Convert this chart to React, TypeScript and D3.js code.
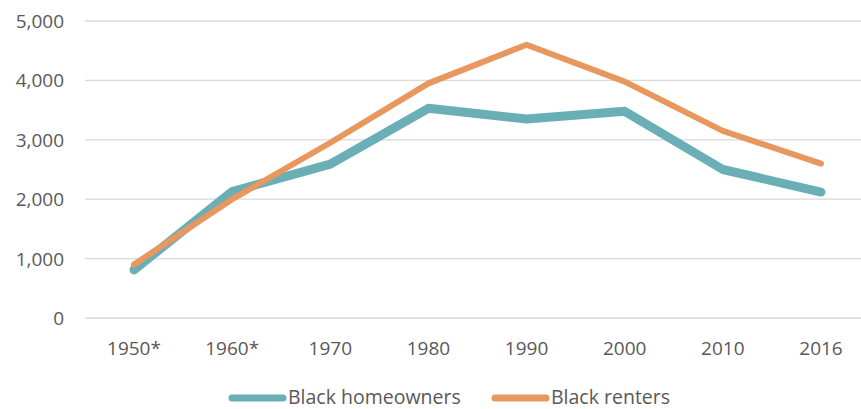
import { useEffect, useRef } from 'react'
import * as d3 from 'd3'

const CATEGORIES = ['1950*', '1960*', '1970', '1980', '1990', '2000', '2010', '2016']
const HOMEOWNERS = [810, 2130, 2590, 3530, 3350, 3480, 2500, 2120]
const RENTERS = [900, 2000, 2950, 3950, 4600, 3980, 3150, 2600]
const Y_TICKS = [0, 1000, 2000, 3000, 4000, 5000]

const SERIES = [
  { name: 'Black homeowners', values: HOMEOWNERS, color: '#6AAFB6', width: 9 },
  { name: 'Black renters', values: RENTERS, color: '#E8975F', width: 6 },
]

const W = 861
const H = 409
const FONT = '"Open Sans", sans-serif'
const TEXT = '#595959'

export default function App() {
  const svgRef = useRef<SVGSVGElement>(null)

  useEffect(() => {
    if (!svgRef.current) return
    const svg = d3.select(svgRef.current)
    svg.selectAll('*').remove()

    const x = d3.scalePoint<string>().domain(CATEGORIES).range([134, 821])
    const y = d3.scaleLinear().domain([0, 5000]).range([318, 21])

    // gridlines
    svg.append('g')
      .selectAll('line')
      .data(Y_TICKS)
      .join('line')
      .attr('x1', 85)
      .attr('x2', W)
      .attr('y1', (d) => y(d))
      .attr('y2', (d) => y(d))
      .attr('stroke', '#D9D9D9')
      .attr('stroke-width', 1.3)

    // y labels
    svg.append('g')
      .selectAll('text')
      .data(Y_TICKS)
      .join('text')
      .attr('x', 64)
      .attr('y', (d) => y(d) + 7)
      .attr('text-anchor', 'end')
      .attr('fill', TEXT)
      .attr('font-size', 19)
      .attr('font-family', FONT)
      .text((d) => d3.format(',')(d))

    // x labels
    svg.append('g')
      .selectAll('text')
      .data(CATEGORIES)
      .join('text')
      .attr('x', (d) => x(d)!)
      .attr('y', 355)
      .attr('text-anchor', 'middle')
      .attr('fill', TEXT)
      .attr('font-size', 19)
      .attr('font-family', FONT)
      .text((d) => d)

    const line = d3
      .line<number>()
      .x((_, i) => x(CATEGORIES[i])!)
      .y((d) => y(d))

    SERIES.forEach((s) => {
      svg.append('path')
        .datum(s.values)
        .attr('d', line)
        .attr('fill', 'none')
        .attr('stroke', s.color)
        .attr('stroke-width', s.width)
        .attr('stroke-linecap', 'round')
        .attr('stroke-linejoin', 'round')
    })

    // legend
    const legendX = [232, 495]
    const lg = svg.append('g')
    SERIES.forEach((s, i) => {
      const g = lg.append('g').attr('transform', `translate(${legendX[i]},398)`)
      g.append('line')
        .attr('x1', 0)
        .attr('x2', 51)
        .attr('stroke', s.color)
        .attr('stroke-width', 7)
        .attr('stroke-linecap', 'round')
      g.append('text')
        .attr('x', 56)
        .attr('y', 6)
        .attr('fill', TEXT)
        .attr('font-size', 19.5)
        .attr('font-family', FONT)
        .text(s.name)
    })
  }, [])

  return (
    <div style={{ position: 'absolute', left: 0, top: 0 }}>
      <svg ref={svgRef} width={W} height={H} style={{ display: 'block', background: '#fff' }} />
    </div>
  )
}
